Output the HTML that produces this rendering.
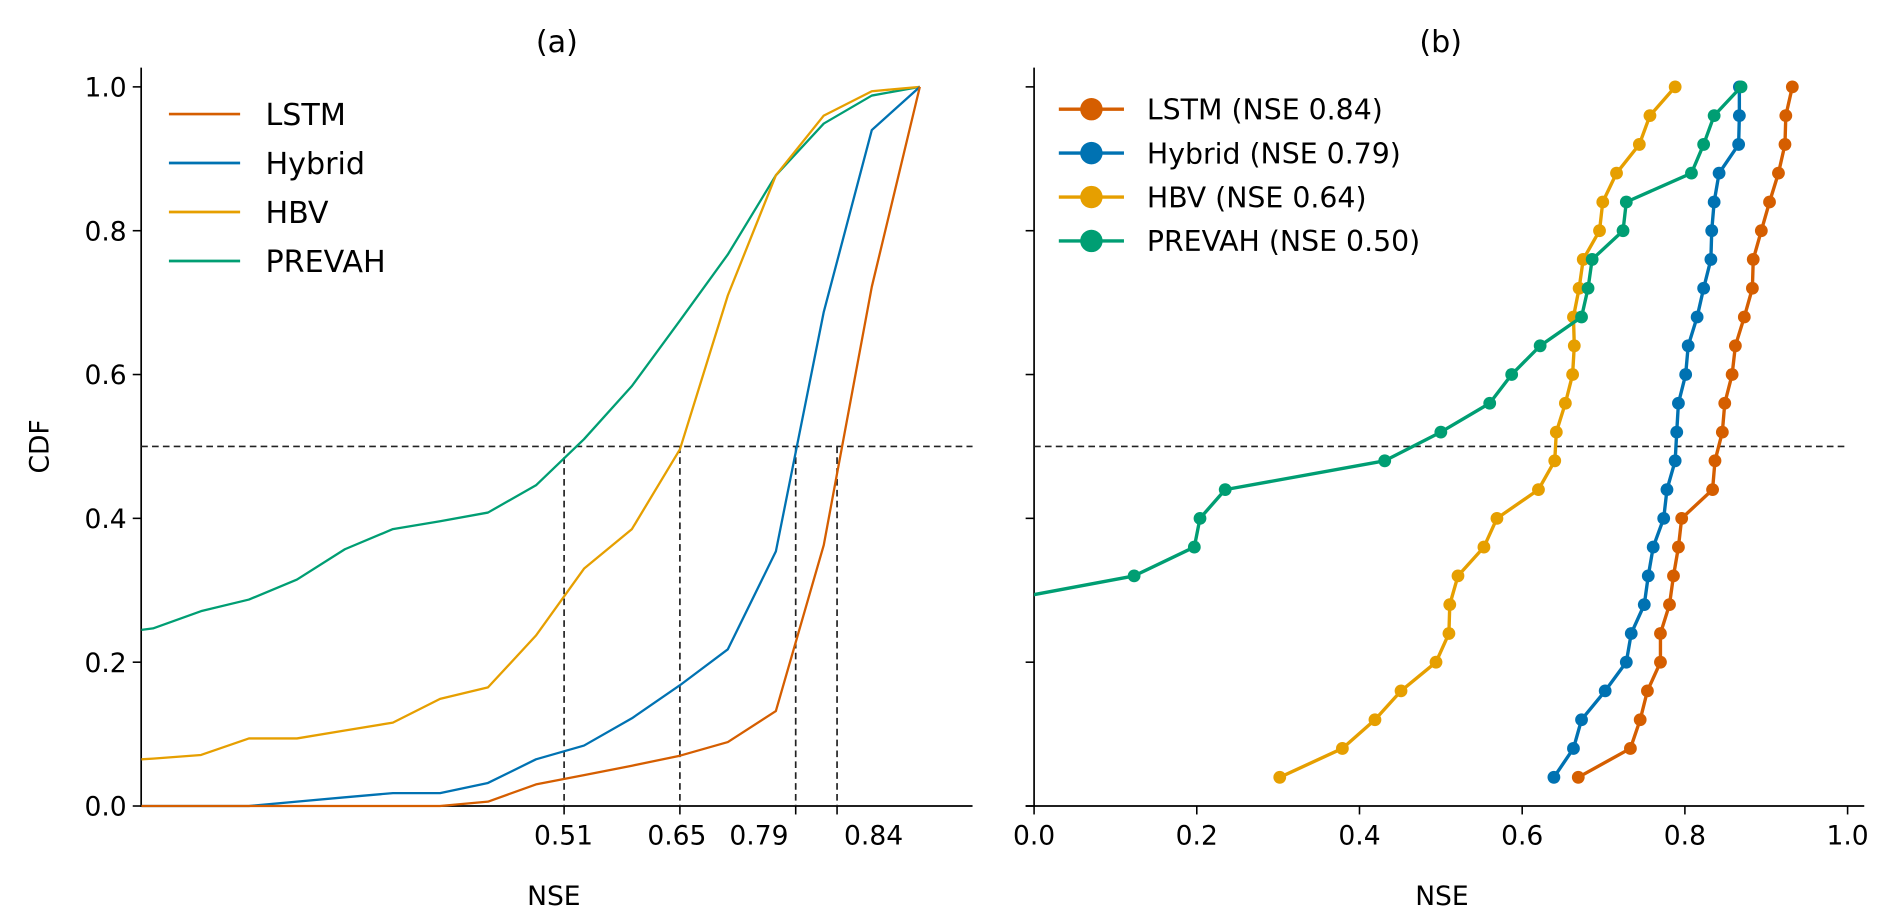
<!DOCTYPE html>
<html><head><meta charset="utf-8"><title>NSE CDF comparison</title>
<style>
html,body{margin:0;padding:0;background:#fff;}
svg{display:block;}
text{font-family:"DejaVu Sans","Liberation Sans",sans-serif;fill:#000;}
</style></head>
<body>
<svg id="fig" xmlns="http://www.w3.org/2000/svg" width="1892" height="921" viewBox="0 0 1568 763.3" preserveAspectRatio="none">
<defs>
<clipPath id="clipA"><rect x="117" y="50" width="689" height="620"/></clipPath>
<clipPath id="clipB"><rect x="857" y="50" width="700" height="620"/></clipPath>
</defs>
<g id="panelA"></g>
<g id="panelB"></g>
</svg>
<script>
// ---- Panel (a) data ----
const aX = [-0.001,0.013,0.071,0.129,0.187,0.245,0.303,0.360,0.418,0.476,0.534,0.592,0.650,0.708,0.766,0.824,0.882,0.940];
const aLSTM = [0,0,0,0,0,0,0,0,0.006,0.03,0.043,0.056,0.07,0.089,0.132,0.363,0.722,1.0];
const aHybrid = [0,0,0,0,0.006,0.012,0.018,0.018,0.032,0.065,0.084,0.122,0.168,0.218,0.354,0.687,0.94,1.0];
const aHBV = [0.065,0.066,0.071,0.094,0.094,0.105,0.116,0.149,0.165,0.237,0.330,0.385,0.496,0.71,0.877,0.96,0.994,1.0];
const aPREVAH = [0.245,0.247,0.271,0.287,0.315,0.357,0.385,0.396,0.408,0.446,0.51,0.584,0.675,0.767,0.877,0.949,0.988,1.0];
const aMedians = [0.51,0.65,0.79,0.84];
const aMedianLabels = ["0.51","0.65","0.79","0.84"];
// ---- Panel (b) data ----
const bCDF = [0.04,0.08,0.12,0.16,0.20,0.24,0.28,0.32,0.36,0.40,0.44,0.48,0.52,0.56,0.60,0.64,0.68,0.72,0.76,0.80,0.84,0.88,0.92,0.96,1.00];
const bLSTM = [0.669,0.733,0.745,0.754,0.770,0.770,0.781,0.786,0.792,0.796,0.834,0.837,0.846,0.849,0.858,0.862,0.873,0.883,0.884,0.894,0.904,0.915,0.923,0.924,0.932];
const bHybrid = [0.639,0.663,0.673,0.702,0.728,0.734,0.750,0.755,0.761,0.774,0.778,0.788,0.790,0.792,0.801,0.804,0.815,0.823,0.832,0.833,0.836,0.842,0.866,0.867,0.867];
const bHBV = [0.302,0.379,0.419,0.451,0.494,0.510,0.511,0.521,0.553,0.569,0.620,0.640,0.642,0.653,0.662,0.664,0.663,0.670,0.675,0.695,0.699,0.716,0.744,0.757,0.788];
const bPREVAH = [-2.5,-1.6,-1.1,-0.8,-0.55,-0.4,-0.066,0.123,0.197,0.204,0.235,0.431,0.50,0.560,0.587,0.622,0.673,0.681,0.686,0.724,0.728,0.808,0.823,0.836,0.869];
const bTicks = [0,0.2,0.4,0.6,0.8,1.0];
const bTickLabels = ["0.0","0.2","0.4","0.6","0.8","1.0"];
const yTicks = [0,0.2,0.4,0.6,0.8,1.0];
const yTickLabels = ["0.0","0.2","0.4","0.6","0.8","1.0"];
const bLegend = ["LSTM (NSE 0.84)","Hybrid (NSE 0.79)","HBV (NSE 0.64)","PREVAH (NSE 0.50)"];
const aLegend = ["LSTM","Hybrid","HBV","PREVAH"];
const colors = ["#d55e00","#0072b2","#e69f00","#009e73"];

const NS="http://www.w3.org/2000/svg";
function mk(tag, attrs, parent){const e=document.createElementNS(NS,tag);for(const k in attrs)e.setAttribute(k,attrs[k]);parent.appendChild(e);return e;}
const yScale = v => 668 - v*596;
const xA = v => 467.5 + (v-0.51)*685.5;
const xB = v => 857 + v*674.2;
const A=document.getElementById('panelA'), B=document.getElementById('panelB');

function txt(parent,x,y,s,size,anchor,name){const t=mk('text',{x:x,y:y,'font-size':size,'text-anchor':anchor},parent);t.textContent=s;


return t;}

txt(A,461.5,43,"(a)",25,"middle","panel-a-title");
txt(B,1194,43,"(b)",25,"middle","panel-b-title");
txt(A,459,750,"NSE",22,"middle","x-axis-title-a");
txt(B,1195,750,"NSE",22,"middle","x-axis-title-b");
const cdf=txt(A,0,0,"CDF",22,"middle","y-axis-title");
cdf.setAttribute('transform','translate(40,370) rotate(-90)');

[[A,117,true],[B,857,false]].forEach(([P,x0,lab])=>{
  yTicks.forEach((v,i)=>{
    const t=mk('line',{x1:x0-7,x2:x0,y1:yScale(v),y2:yScale(v),stroke:'#000','stroke-width':1.3},P);
    
    
    if(lab) txt(P,x0-12,yScale(v)+8,yTickLabels[i],22,"end","y-tick-label");
  });
});
function spine(P,x1,y1,x2,y2,name){const l=mk('line',{x1:x1,y1:y1,x2:x2,y2:y2,stroke:'#000','stroke-width':1.4},P);

}
spine(A,117,56,117,668.7,'y-axis-a');
spine(A,116.3,668,806,668,'x-axis-a');
spine(B,857,56,857,668.7,'y-axis-b');
spine(B,850,668,1545,668,'x-axis-b');

const hA=mk('line',{x1:117,x2:806,y1:yScale(0.5),y2:yScale(0.5),stroke:'#222','stroke-width':1.4,'stroke-dasharray':'5.5,3.5'},A);


const labPos=[467,561,629,724];
aMedians.forEach((m,i)=>{
  const l=mk('line',{x1:xA(m),x2:xA(m),y1:yScale(0.5),y2:668,stroke:'#222','stroke-width':1.4,'stroke-dasharray':'5.5,3.5'},A);
  
  
  const t=mk('line',{x1:xA(m),x2:xA(m),y1:668,y2:675,stroke:'#000','stroke-width':1.3},A);
  
  
  txt(A,labPos[i],700,aMedianLabels[i],22,"middle","x-tick-label-a");
});
const aSeries=[aLSTM,aHybrid,aHBV,aPREVAH];
const aNames=['lstm','hybrid','hbv','prevah'];
const gA=mk('g',{'clip-path':'url(#clipA)'},A);
[3,2,1,0].forEach(s=>{
  const d=aX.map((x,i)=>(i?'L':'M')+xA(x).toFixed(1)+','+yScale(aSeries[s][i]).toFixed(1)).join('');
  const p=mk('path',{d:d,fill:'none',stroke:colors[s],'stroke-width':1.9,'stroke-linejoin':'round'},gA);
  
  
});
aLegend.forEach((n,i)=>{
  const y=94.5+i*40.6;
  const l=mk('line',{x1:140,x2:199,y1:y,y2:y,stroke:colors[i],'stroke-width':2.2},A);
  
  
  txt(A,220,y+9,n,25,"start","legend-a-entry");
});

const hB=mk('line',{x1:857,x2:1532,y1:yScale(0.5),y2:yScale(0.5),stroke:'#222','stroke-width':1.4,'stroke-dasharray':'5.5,3.5'},B);


bTicks.forEach((v,i)=>{
  const t=mk('line',{x1:xB(v),x2:xB(v),y1:668,y2:675,stroke:'#000','stroke-width':1.3},B);
  
  
  txt(B,xB(v),700,bTickLabels[i],22,"middle","x-tick-label-b");
});
const bSeries=[bLSTM,bHybrid,bHBV,bPREVAH];
const gB=mk('g',{'clip-path':'url(#clipB)'},B);
[0,1,2,3].forEach(s=>{
  const d=bCDF.map((c,i)=>(i?'L':'M')+xB(bSeries[s][i]).toFixed(1)+','+yScale(c).toFixed(1)).join('');
  const p=mk('path',{d:d,fill:'none',stroke:colors[s],'stroke-width':2.8,'stroke-linejoin':'round'},gB);
  
  
  bCDF.forEach((c,i)=>{
    const m=mk('circle',{cx:xB(bSeries[s][i]).toFixed(1),cy:yScale(c).toFixed(1),r:5.3,fill:colors[s]},gB);
    
    
  });
});
bLegend.forEach((n,i)=>{
  const y=90.5+i*36.4;
  const l=mk('line',{x1:877.5,x2:931.5,y1:y,y2:y,stroke:colors[i],'stroke-width':2.8},B);
  
  
  const c=mk('circle',{cx:904.5,cy:y,r:9.3,fill:colors[i]},B);
  
  
  txt(B,950.5,y+8.5,n,23.5,"start","legend-b-entry");
});
</script>
</body></html>
